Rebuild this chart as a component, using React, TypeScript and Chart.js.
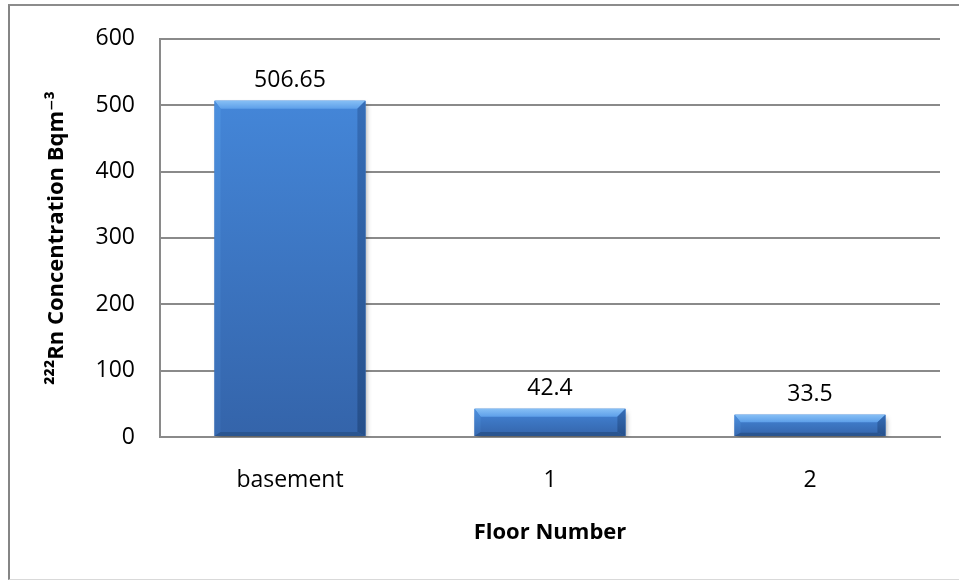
import { useEffect, useRef } from 'react';
import { Chart, registerables } from 'chart.js';

Chart.register(...registerables);

// Radon concentration per floor
const floors = ['basement', '1', '2'];
const radonLevels = [506.65, 42.4, 33.5];
const yMin = 0;
const yMax = 600;
const yStep = 100;

const FONT = '"Open Sans", "DejaVu Sans", sans-serif';

// Bars with a bevelled face, drop shadow and value labels on top
const bevelBars = {
  id: 'bevelBars',
  beforeDatasetsDraw(chart: any) {
    const ctx = chart.ctx;
    ctx.save();
    ctx.shadowColor = 'rgba(0,0,0,0.35)';
    ctx.shadowBlur = 5;
    ctx.shadowOffsetX = 2;
    ctx.shadowOffsetY = 3;
  },
  afterDatasetsDraw(chart: any) {
    const ctx = chart.ctx;
    ctx.restore();
    const meta = chart.getDatasetMeta(0);
    meta.data.forEach((bar: any, i: number) => {
      const { x, y, base, width } = bar.getProps(['x', 'y', 'base', 'width'], true);
      const l = x - width / 2;
      const r = x + width / 2;
      const t = y;
      const b = base;
      const h = b - t;
      const bt = Math.min(8, h * 0.35);
      const bb = Math.min(4, h * 0.15);
      const bl = 6;
      const br = 8;

      const face = ctx.createLinearGradient(0, t, 0, b);
      face.addColorStop(0, '#4486d8');
      face.addColorStop(1, '#3464aa');
      ctx.fillStyle = face;
      ctx.fillRect(l, t, r - l, h);

      const poly = (pts: number[][], fill: any) => {
        ctx.beginPath();
        ctx.moveTo(pts[0][0], pts[0][1]);
        for (let k = 1; k < pts.length; k++) ctx.lineTo(pts[k][0], pts[k][1]);
        ctx.closePath();
        ctx.fillStyle = fill;
        ctx.fill();
      };

      const top = ctx.createLinearGradient(0, t, 0, t + bt);
      top.addColorStop(0, '#86bff5');
      top.addColorStop(1, '#5d9fe9');
      poly([[l, t], [r, t], [r - br, t + bt], [l + bl, t + bt]], top);

      const left = ctx.createLinearGradient(0, t, 0, b);
      left.addColorStop(0, '#4c90df');
      left.addColorStop(1, '#386ab1');
      poly([[l, t], [l + bl, t + bt], [l + bl, b - bb], [l, b]], left);

      const right = ctx.createLinearGradient(0, t, 0, b);
      right.addColorStop(0, '#356db7');
      right.addColorStop(1, '#264f8a');
      poly([[r, t], [r, b], [r - br, b - bb], [r - br, t + bt]], right);

      poly([[l, b], [l + bl, b - bb], [r - br, b - bb], [r, b]], '#2a5590');

      ctx.fillStyle = '#000';
      ctx.font = `23px ${FONT}`;
      ctx.textAlign = 'center';
      ctx.textBaseline = 'middle';
      ctx.fillText(String(radonLevels[i]), x, t - 20);
    });
  },
};

export default function App() {
  const canvasRef = useRef<HTMLCanvasElement>(null);

  useEffect(() => {
    if (!canvasRef.current) return;
    const chart = new Chart(canvasRef.current, {
      type: 'bar',
      data: {
        labels: floors,
        datasets: [
          {
            data: radonLevels,
            backgroundColor: '#3f7cc9',
            borderWidth: 0,
            barPercentage: 0.58,
            categoryPercentage: 1,
          },
        ],
      },
      options: {
        animation: false,
        responsive: false,
        layout: { padding: { left: 0, top: 34, right: 19, bottom: 0 } },
        plugins: {
          legend: { display: false },
          tooltip: { enabled: false },
        },
        scales: {
          x: {
            grid: { display: false },
            border: { display: true, color: '#8a8a8a', width: 2 },
            ticks: {
              color: '#000',
              padding: 22,
              font: { family: FONT, size: 23 },
            },
            title: {
              display: true,
              text: 'Floor Number',
              color: '#000',
              font: { family: FONT, size: 22, weight: 'bold' },
              padding: { top: 0, bottom: 34 },
            },
            afterFit(scale: any) {
              scale.height = 143;
            },
          },
          y: {
            min: yMin,
            max: yMax,
            grid: { color: '#8a8a8a', lineWidth: 2, drawTicks: false },
            border: { display: true, color: '#8a8a8a', width: 2 },
            ticks: {
              stepSize: yStep,
              color: '#000',
              padding: 25,
              font: { family: FONT, size: 23 },
            },
            title: {
              display: true,
              text: '²²²Rn Concentration Bqm⁻³',
              color: '#000',
              font: { family: FONT, size: 22, weight: 'bold' },
              padding: { top: 44, bottom: 0 },
            },
            afterFit(scale: any) {
              scale.width = 160;
            },
          },
        },
      },
      plugins: [bevelBars],
    });
    return () => chart.destroy();
  }, []);

  return (
    <div
      style={{
        position: 'fixed',
        left: 0,
        top: 0,
        width: 959,
        height: 580,
        overflow: 'hidden',
        background: '#fff',
      }}
    >
      <div
        style={{
          position: 'absolute',
          left: 8,
          top: 4,
          width: 980,
          height: 573,
          borderLeft: '2px solid #858585',
          borderTop: '2px solid #8c8c8c',
          borderBottom: '1px solid #d9d9d9',
        }}
      />
      <canvas
        ref={canvasRef}
        width={959}
        height={580}
        style={{ position: 'absolute', left: 0, top: 0, display: 'block' }}
      />
    </div>
  );
}
